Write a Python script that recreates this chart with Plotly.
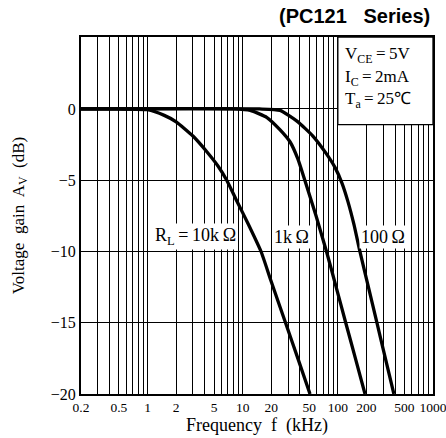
import plotly.graph_objects as go
import math

# Data (frequency in kHz, gain in dB)
f_10k = [0.2, 0.5, 1.0, 1.5, 2.0, 3.0, 4.2, 5.5, 6.8, 8.6, 11.5, 15.6, 19.7, 28.2, 38.0, 51.0]
g_10k = [0, 0, -0.05, -0.45, -0.9, -1.9, -3.0, -4.0, -5.0, -6.4, -8.1, -10.0, -12.0, -15.0, -17.5, -20.0]

f_1k = [0.2, 8, 12, 18, 24.6, 31.4, 38, 45, 59, 76, 96, 121, 153, 193]
g_1k = [0, 0, -0.1, -0.6, -1.45, -2.3, -3.5, -5.0, -7.5, -10.0, -12.5, -15.0, -17.5, -20.0]

f_100 = [0.2, 15, 24.7, 37.2, 54.7, 75.0, 93.3, 110.5, 127.7, 147.6, 170.6, 209.6, 257.4, 316, 388]
g_100 = [0, 0, -0.1, -0.85, -1.9, -3.1, -4.1, -5.2, -6.5, -8.1, -10.0, -12.5, -15.0, -17.5, -20.0]

x_labels = [0.2, 0.5, 1, 2, 5, 10, 20, 50, 100, 200, 500, 1000]
x_label_text = ["0.2", "0.5", "1", "2", "5", "10", "20", "50", "100", "200", "500", "1000"]
y_ticks = [0, -5, -10, -15, -20]

# grid positions (1..9 x decade) between 0.2 and 1000
grid_vals = []
for dec in [0.1, 1, 10, 100]:
    for m in range(1, 10):
        v = round(m * dec, 6)
        if 0.2 <= v <= 1000:
            grid_vals.append(v)
grid_vals.append(1000)

serif = "Liberation Serif"
TS = "\u2009"

fig = go.Figure()
for fx, gy in [(f_10k, g_10k), (f_1k, g_1k), (f_100, g_100)]:
    fig.add_trace(go.Scatter(x=fx, y=gy, mode="lines",
                             line=dict(color="black", width=3.3, shape="spline", smoothing=0.5),
                             showlegend=False, hoverinfo="skip"))

fig.update_layout(
    width=446, height=438,
    margin=dict(l=81, r=13, t=37, b=44),
    paper_bgcolor="white", plot_bgcolor="white",
    font=dict(family=serif, size=14, color="black"),
    showlegend=False,
)
fig.update_xaxes(type="log", range=[math.log10(0.2), math.log10(1000)], automargin=False,
                 tickvals=x_labels, ticktext=x_label_text, ticks="", ticklabeloverflow="allow",
                 showgrid=True, gridcolor="black", gridwidth=1.3,
                 minor=dict(tickvals=grid_vals, showgrid=True, gridcolor="black", gridwidth=1.3, ticks=""),
                 showline=True, linecolor="black", linewidth=2, mirror=True,
                 zeroline=False, tickfont=dict(family=serif, size=13.5),
                 title=dict(text="Frequency  f  (kHz)", font=dict(family=serif, size=18), standoff=4))
fig.update_yaxes(range=[-20, 5.05], automargin=False, tickvals=y_ticks, ticks="",
                 showgrid=True, gridcolor="black", gridwidth=1.4,
                 showline=True, linecolor="black", linewidth=2, mirror=True,
                 zeroline=False, tickfont=dict(family=serif, size=16),
                 title=dict(text="Voltage  gain  A<sub>V</sub>  (dB)", font=dict(family=serif, size=17), standoff=22))

# condition box
fig.add_shape(type="rect", xref="x", yref="y", x0=100, x1=1000, y0=-1.1, y1=5.05,
              fillcolor="white", line=dict(color="black", width=1.3), layer="above")

for txt, yy in [("V<sub>CE</sub>" + TS + "=" + TS + "5V", 3.79),
                ("I<sub>C</sub>" + TS + "=" + TS + "2mA", 2.17),
                ("T<sub>a</sub>" + TS + "=" + TS + "25℃", 0.63)]:
    fig.add_annotation(x=2.054, y=yy, xref="x", yref="y", text=txt, showarrow=False,
                       xanchor="left", yanchor="middle", font=dict(family=serif, size=17))

for txt, xx in [("R<sub>L</sub>" + TS + "=" + TS + "10k" + TS + "Ω", 0.499),
                ("1k" + TS + "Ω", 1.518), ("100" + TS + "Ω", 2.474)]:
    fig.add_annotation(x=xx, y=-8.95, xref="x", yref="y", text=txt, showarrow=False,
                       xanchor="center", yanchor="middle", bgcolor="white", borderpad=1,
                       font=dict(family=serif, size=18))

fig.add_annotation(x=(432 - 81) / 352, y=(394 - 16) / 357, xref="paper", yref="paper",
                   text="<b>(PC121   Series)</b>",
                   showarrow=False, xanchor="right", yanchor="middle",
                   font=dict(family="Liberation Sans", size=20))

fig.write_html("out.html", config={"displayModeBar": False},
               post_script="document.body.style.margin='0';document.body.style.overflow='hidden';")
